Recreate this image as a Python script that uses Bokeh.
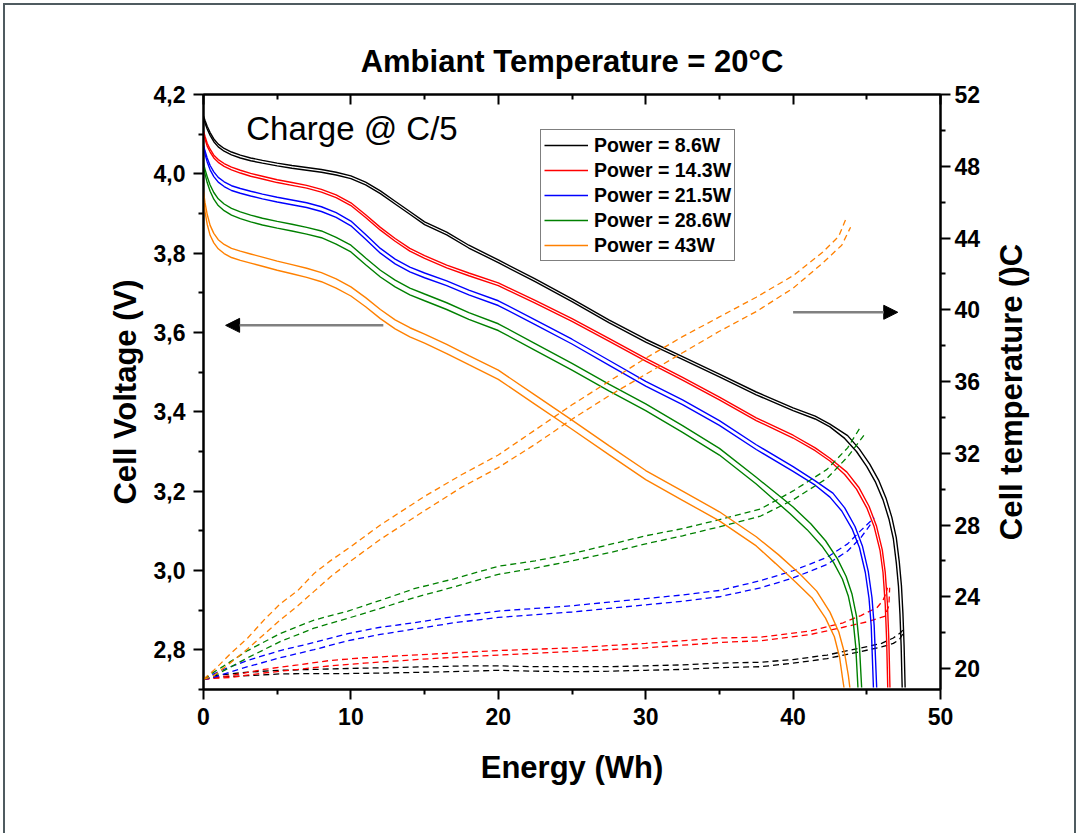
from bokeh.plotting import figure
from bokeh.layouts import row
from bokeh.models import (Range1d, LinearAxis, FixedTicker, Legend, LegendItem,
                          Label, Arrow, NormalHead)
from bokeh.embed import file_html
from bokeh.resources import INLINE

FONT = "Liberation Sans"

# ---- series ---------------------------------------------------------------
POWERS = ["Power = 8.6W", "Power = 14.3W", "Power = 21.5W", "Power = 28.6W", "Power = 43W"]
COLORS = ["#000000", "#ff0000", "#0000ff", "#008000", "#ff8000"]

# cell voltage (V) vs energy (Wh), two cells (A, B) per power level
E_V_86_A = [0, 0.1, 0.25, 0.45, 0.7, 1.0, 1.4, 1.9, 2.5, 3.2, 4.0, 5.0, 6.0, 7.0, 8.0, 9.0, 10.0, 11.0, 12.0, 13.0, 14.0, 15.0, 16.5, 18.0, 20.0, 22.5, 25.0, 27.5, 30.0, 32.5, 35.0, 37.5, 40.0, 41.5, 42.5, 43.5, 44.3, 45.0, 45.6, 46.1, 46.5, 46.8, 47.0, 47.15, 47.25, 47.33, 47.4]
V_86_A = [4.140, 4.128, 4.113, 4.097, 4.081, 4.068, 4.057, 4.048, 4.040, 4.033, 4.027, 4.020, 4.014, 4.009, 4.004, 3.997, 3.988, 3.972, 3.950, 3.924, 3.898, 3.872, 3.846, 3.813, 3.776, 3.728, 3.678, 3.625, 3.576, 3.532, 3.488, 3.443, 3.403, 3.382, 3.362, 3.333, 3.300, 3.262, 3.222, 3.178, 3.130, 3.080, 3.020, 2.960, 2.890, 2.810, 2.705]
E_V_86_B = [0, 0.1, 0.25, 0.45, 0.7, 1.0, 1.4, 1.9, 2.5, 3.2, 4.0, 5.0, 6.0, 7.0, 8.0, 9.0, 10.0, 11.0, 12.0, 13.0, 14.0, 15.0, 16.5, 18.0, 20.0, 22.5, 25.0, 27.5, 30.0, 32.5, 35.0, 37.5, 40.0, 41.5, 42.5, 43.7, 44.5, 45.2, 45.8, 46.3, 46.7, 47.0, 47.2, 47.35, 47.45, 47.53, 47.6]
V_86_B = [4.146, 4.135, 4.120, 4.104, 4.088, 4.075, 4.064, 4.055, 4.047, 4.040, 4.034, 4.027, 4.021, 4.016, 4.011, 4.004, 3.995, 3.979, 3.957, 3.931, 3.905, 3.879, 3.853, 3.820, 3.783, 3.735, 3.685, 3.632, 3.583, 3.539, 3.495, 3.450, 3.410, 3.389, 3.369, 3.340, 3.306, 3.268, 3.228, 3.183, 3.134, 3.083, 3.023, 2.962, 2.892, 2.811, 2.705]

E_V_143_A = [0, 0.1, 0.25, 0.45, 0.7, 1.0, 1.4, 1.9, 2.5, 3.2, 4.0, 5.0, 6.0, 7.0, 8.0, 9.0, 10.0, 11.0, 12.0, 13.0, 14.0, 15.0, 16.5, 18.0, 20.0, 22.5, 25.0, 27.5, 30.0, 32.5, 35.0, 37.5, 40.0, 41.5, 42.5, 43.5, 44.3, 45.0, 45.5, 45.9, 46.1, 46.25, 46.35, 46.42]
V_143_A = [4.103, 4.088, 4.070, 4.055, 4.040, 4.029, 4.019, 4.010, 4.002, 3.994, 3.987, 3.978, 3.971, 3.964, 3.954, 3.940, 3.920, 3.890, 3.858, 3.830, 3.805, 3.787, 3.763, 3.743, 3.718, 3.674, 3.628, 3.578, 3.528, 3.480, 3.430, 3.378, 3.334, 3.302, 3.276, 3.242, 3.205, 3.158, 3.110, 3.050, 2.995, 2.915, 2.820, 2.705]
E_V_143_B = [0, 0.1, 0.25, 0.45, 0.7, 1.0, 1.4, 1.9, 2.5, 3.2, 4.0, 5.0, 6.0, 7.0, 8.0, 9.0, 10.0, 11.0, 12.0, 13.0, 14.0, 15.0, 16.5, 18.0, 20.0, 22.5, 25.0, 27.5, 30.0, 32.5, 35.0, 37.5, 40.0, 41.5, 42.5, 43.65, 44.45, 45.15, 45.65, 46.05, 46.25, 46.4, 46.5, 46.57]
V_143_B = [4.108, 4.095, 4.077, 4.062, 4.047, 4.036, 4.026, 4.017, 4.009, 4.001, 3.994, 3.985, 3.978, 3.971, 3.961, 3.947, 3.927, 3.897, 3.865, 3.837, 3.812, 3.794, 3.770, 3.750, 3.725, 3.681, 3.635, 3.585, 3.535, 3.487, 3.437, 3.385, 3.341, 3.309, 3.283, 3.248, 3.210, 3.162, 3.113, 3.052, 2.996, 2.916, 2.820, 2.705]

E_V_215_A = [0, 0.1, 0.25, 0.45, 0.7, 1.0, 1.4, 1.9, 2.5, 3.2, 4.0, 5.0, 6.0, 7.0, 8.0, 9.0, 10.0, 11.0, 12.0, 13.0, 14.0, 15.0, 16.5, 18.0, 20.0, 22.5, 25.0, 27.5, 30.0, 32.5, 35.0, 37.5, 40.0, 41.5, 42.5, 43.3, 44.0, 44.5, 44.9, 45.15, 45.3, 45.45]
V_215_A = [4.068, 4.050, 4.030, 4.010, 3.993, 3.979, 3.968, 3.958, 3.951, 3.944, 3.937, 3.929, 3.922, 3.915, 3.905, 3.890, 3.869, 3.835, 3.800, 3.773, 3.753, 3.738, 3.718, 3.695, 3.668, 3.620, 3.571, 3.518, 3.465, 3.418, 3.366, 3.305, 3.250, 3.215, 3.185, 3.150, 3.105, 3.058, 2.995, 2.930, 2.860, 2.705]
E_V_215_B = [0, 0.1, 0.25, 0.45, 0.7, 1.0, 1.4, 1.9, 2.5, 3.2, 4.0, 5.0, 6.0, 7.0, 8.0, 9.0, 10.0, 11.0, 12.0, 13.0, 14.0, 15.0, 16.5, 18.0, 20.0, 22.5, 25.0, 27.5, 30.0, 32.5, 35.0, 37.5, 40.0, 41.5, 42.7, 43.5, 44.2, 44.7, 45.1, 45.35, 45.5, 45.67]
V_215_B = [4.072, 4.058, 4.040, 4.021, 4.005, 3.991, 3.980, 3.970, 3.963, 3.956, 3.949, 3.941, 3.934, 3.927, 3.917, 3.902, 3.881, 3.847, 3.812, 3.785, 3.765, 3.750, 3.730, 3.707, 3.680, 3.632, 3.583, 3.530, 3.477, 3.430, 3.378, 3.317, 3.262, 3.226, 3.195, 3.158, 3.111, 3.062, 2.998, 2.932, 2.861, 2.705]

E_V_286_A = [0, 0.1, 0.25, 0.45, 0.7, 1.0, 1.4, 1.9, 2.5, 3.2, 4.0, 5.0, 6.0, 7.0, 8.0, 9.0, 10.0, 11.0, 12.0, 13.0, 14.0, 15.0, 16.5, 18.0, 20.0, 22.5, 25.0, 27.5, 30.0, 32.5, 35.0, 37.5, 40.0, 41.2, 42.2, 43.0, 43.6, 44.0, 44.3, 44.5, 44.65]
V_286_A = [4.027, 4.012, 3.993, 3.972, 3.953, 3.937, 3.924, 3.913, 3.904, 3.896, 3.888, 3.880, 3.873, 3.865, 3.856, 3.840, 3.820, 3.788, 3.757, 3.732, 3.712, 3.697, 3.675, 3.650, 3.622, 3.572, 3.522, 3.470, 3.420, 3.365, 3.308, 3.235, 3.160, 3.118, 3.075, 3.030, 2.985, 2.940, 2.885, 2.810, 2.705]
E_V_286_B = [0, 0.1, 0.25, 0.45, 0.7, 1.0, 1.4, 1.9, 2.5, 3.2, 4.0, 5.0, 6.0, 7.0, 8.0, 9.0, 10.0, 11.0, 12.0, 13.0, 14.0, 15.0, 16.5, 18.0, 20.0, 22.5, 25.0, 27.5, 30.0, 32.5, 35.0, 37.5, 39.8, 40.95, 41.95, 42.75, 43.35, 43.75, 44.05, 44.25, 44.4]
V_286_B = [4.020, 4.000, 3.978, 3.956, 3.936, 3.920, 3.907, 3.896, 3.887, 3.879, 3.871, 3.863, 3.856, 3.848, 3.839, 3.823, 3.803, 3.771, 3.740, 3.715, 3.695, 3.680, 3.658, 3.633, 3.605, 3.555, 3.505, 3.453, 3.403, 3.348, 3.291, 3.218, 3.143, 3.103, 3.062, 3.020, 2.978, 2.935, 2.882, 2.808, 2.705]

E_V_43_A = [0, 0.1, 0.25, 0.45, 0.7, 1.0, 1.4, 1.9, 2.5, 3.2, 4.0, 5.0, 6.0, 7.0, 8.0, 9.0, 10.0, 11.0, 12.0, 13.0, 14.0, 15.0, 16.5, 18.0, 20.0, 22.5, 25.0, 27.5, 30.0, 32.5, 35.0, 37.5, 39.0, 40.5, 41.6, 42.5, 43.1, 43.5, 43.75, 43.85]
V_43_A = [3.955, 3.928, 3.898, 3.870, 3.850, 3.834, 3.822, 3.812, 3.805, 3.798, 3.790, 3.780, 3.771, 3.762, 3.751, 3.735, 3.715, 3.688, 3.658, 3.632, 3.612, 3.596, 3.570, 3.542, 3.505, 3.442, 3.379, 3.315, 3.252, 3.200, 3.148, 3.085, 3.040, 2.990, 2.948, 2.895, 2.845, 2.790, 2.735, 2.705]
E_V_43_B = [0, 0.1, 0.25, 0.45, 0.7, 1.0, 1.4, 1.9, 2.5, 3.2, 4.0, 5.0, 6.0, 7.0, 8.0, 9.0, 10.0, 11.0, 12.0, 13.0, 14.0, 15.0, 16.5, 18.0, 20.0, 22.5, 25.0, 27.5, 30.0, 32.5, 35.0, 37.5, 38.8, 40.2, 41.3, 42.2, 42.8, 43.15, 43.35, 43.45]
V_43_B = [3.940, 3.905, 3.873, 3.845, 3.826, 3.811, 3.799, 3.789, 3.782, 3.775, 3.767, 3.757, 3.748, 3.739, 3.728, 3.712, 3.692, 3.665, 3.635, 3.609, 3.589, 3.573, 3.547, 3.519, 3.482, 3.419, 3.356, 3.292, 3.229, 3.177, 3.125, 3.062, 3.018, 2.970, 2.930, 2.880, 2.833, 2.782, 2.730, 2.705]

# cell temperature (°C) vs energy (Wh), two cells per power level
E_T_86_A = [0, 0.7, 1.8, 3.0, 5.2, 7.5, 9.8, 12.5, 15.4, 18.0, 20.0, 22.5, 25.0, 27.5, 30.0, 32.5, 35.0, 37.8, 40.0, 42.3, 44.6, 46.0, 46.8, 47.2, 47.5]
T_86_A = [19.4, 19.5, 19.55, 19.6, 19.7, 19.72, 19.72, 19.75, 19.8, 19.85, 19.9, 19.85, 19.82, 19.85, 19.9, 19.95, 20.05, 20.1, 20.3, 20.55, 20.95, 21.2, 21.4, 21.6, 22.0]
E_T_86_B = [0, 0.7, 1.8, 3.0, 5.2, 7.5, 9.8, 12.5, 15.4, 18.0, 20.0, 22.5, 25.0, 27.5, 30.0, 32.5, 35.0, 37.8, 40.0, 42.3, 44.6, 46.0, 46.8, 47.3, 47.6]
T_86_B = [19.4, 19.6, 19.7, 19.8, 19.9, 19.95, 20.0, 20.05, 20.1, 20.15, 20.15, 20.1, 20.1, 20.1, 20.15, 20.2, 20.3, 20.35, 20.5, 20.75, 21.15, 21.4, 21.7, 22.0, 22.3]

E_T_143_A = [0, 0.7, 1.8, 4.1, 6.4, 8.6, 10.9, 15.4, 20.0, 25.0, 30.0, 35.0, 37.8, 41.2, 43.4, 44.6, 45.7, 46.1, 46.3, 46.4]
T_143_A = [19.4, 19.5, 19.6, 19.95, 20.2, 20.45, 20.6, 20.8, 21.0, 21.15, 21.4, 21.7, 21.75, 22.1, 22.55, 22.95, 23.4, 23.8, 24.2, 24.5]
E_T_143_B = [0, 0.7, 1.8, 4.1, 6.4, 8.6, 10.9, 15.4, 20.0, 25.0, 30.0, 35.0, 37.8, 41.2, 43.4, 45.0, 46.2, 46.5, 46.55]
T_143_B = [19.4, 19.45, 19.5, 19.75, 19.95, 20.15, 20.3, 20.55, 20.75, 20.95, 21.15, 21.45, 21.55, 21.9, 22.3, 22.6, 22.9, 23.5, 24.5]

E_T_215_A = [0, 0.7, 1.2, 3.0, 5.2, 7.5, 9.8, 12.0, 14.3, 17.0, 20.0, 22.5, 25.0, 27.5, 30.0, 32.5, 35.0, 37.8, 40.0, 42.3, 43.7, 44.6, 45.5]
T_215_A = [19.4, 19.7, 19.9, 20.45, 21.0, 21.45, 21.95, 22.3, 22.55, 22.9, 23.2, 23.35, 23.5, 23.7, 23.9, 24.1, 24.35, 24.9, 25.45, 26.2, 26.95, 27.7, 28.4]
E_T_215_B = [0, 0.7, 1.2, 3.0, 5.2, 7.5, 9.8, 12.0, 14.3, 17.0, 20.0, 22.5, 25.0, 27.5, 30.0, 32.5, 35.0, 37.8, 40.0, 42.3, 43.7, 44.6, 45.4]
T_215_B = [19.4, 19.5, 19.65, 20.1, 20.6, 21.05, 21.55, 21.9, 22.2, 22.55, 22.85, 23.0, 23.15, 23.35, 23.55, 23.75, 24.0, 24.5, 25.05, 25.8, 26.55, 27.3, 28.2]

E_T_286_A = [0, 0.7, 1.2, 3.0, 5.2, 7.5, 9.8, 12.0, 14.3, 17.0, 20.0, 22.5, 25.0, 27.5, 30.0, 32.5, 35.0, 37.8, 40.0, 42.3, 43.7, 44.6]
T_286_A = [19.4, 19.8, 20.05, 21.0, 21.95, 22.7, 23.2, 23.8, 24.45, 25.0, 25.7, 26.0, 26.4, 26.9, 27.4, 27.8, 28.3, 28.9, 29.9, 31.1, 32.3, 33.5]
E_T_286_B = [0, 0.7, 1.2, 3.0, 5.2, 7.5, 9.8, 12.0, 14.3, 17.0, 20.0, 22.5, 25.0, 27.5, 30.0, 32.5, 35.0, 37.8, 40.0, 42.3, 43.7, 44.8]
T_286_B = [19.4, 19.6, 19.8, 20.6, 21.5, 22.25, 22.8, 23.35, 23.95, 24.55, 25.25, 25.6, 26.0, 26.45, 26.95, 27.4, 27.9, 28.5, 29.4, 30.6, 31.8, 33.0]

E_T_43_A = [0, 0.7, 1.8, 3.0, 4.1, 5.2, 6.4, 7.5, 8.6, 10.0, 12.0, 15.0, 17.5, 20.0, 22.5, 25.0, 27.5, 30.0, 32.5, 35.0, 37.5, 40.0, 42.0, 43.1, 43.6]
T_43_A = [19.4, 19.9, 20.8, 21.7, 22.7, 23.6, 24.35, 25.3, 26.0, 26.8, 28.0, 29.6, 30.8, 31.9, 33.3, 34.7, 36.0, 37.3, 38.5, 39.6, 40.7, 41.9, 43.2, 44.1, 45.1]
E_T_43_B = [0, 0.7, 1.8, 3.0, 4.1, 5.2, 6.4, 7.5, 8.6, 10.0, 12.0, 15.0, 17.5, 20.0, 22.5, 25.0, 27.5, 30.0, 32.5, 35.0, 37.5, 40.0, 42.0, 43.3, 43.9]
T_43_B = [19.4, 19.6, 20.3, 21.1, 21.9, 22.7, 23.5, 24.3, 25.1, 26.0, 27.2, 28.8, 30.1, 31.2, 32.5, 33.9, 35.2, 36.4, 37.6, 38.8, 39.9, 41.2, 42.6, 43.6, 44.6]

VOLTAGE = [
    (E_V_86_A, V_86_A, E_V_86_B, V_86_B),
    (E_V_143_A, V_143_A, E_V_143_B, V_143_B),
    (E_V_215_A, V_215_A, E_V_215_B, V_215_B),
    (E_V_286_A, V_286_A, E_V_286_B, V_286_B),
    (E_V_43_A, V_43_A, E_V_43_B, V_43_B),
]
TEMPERATURE = [
    (E_T_86_A, T_86_A, E_T_86_B, T_86_B),
    (E_T_143_A, T_143_A, E_T_143_B, T_143_B),
    (E_T_215_A, T_215_A, E_T_215_B, T_215_B),
    (E_T_286_A, T_286_A, E_T_286_B, T_286_B),
    (E_T_43_A, T_43_A, E_T_43_B, T_43_B),
]

# ---- axes ------------------------------------------------------------------
X_MAJOR = [0, 10, 20, 30, 40, 50]
X_MINOR = [5, 15, 25, 35, 45]
V_MAJOR = [2.8, 3.0, 3.2, 3.4, 3.6, 3.8, 4.0, 4.2]
V_MINOR = [2.7, 2.9, 3.1, 3.3, 3.5, 3.7, 3.9, 4.1]
V_LABELS = ["2,8", "3,0", "3,2", "3,4", "3,6", "3,8", "4,0", "4,2"]
T_MAJOR = [20, 24, 28, 32, 36, 40, 44, 48, 52]
T_MINOR = [22, 26, 30, 34, 38, 42, 46, 50]

W, H = 1079, 833
MAIN_W = 990                     # main chart; the strip to its right holds the temperature title
LEFT, RIGHT, TOP, BOTTOM = 203, 940, 94, 689
X0, X1 = 0, 50
V0, V1 = 2.7, 4.2
T0, T1 = 18.83, 52

p = figure(width=MAIN_W, height=H, x_range=Range1d(X0, X1), y_range=Range1d(V0, V1),
           output_backend="svg", toolbar_location=None,
           min_border_left=LEFT, min_border_right=MAIN_W - RIGHT,
           min_border_top=TOP, min_border_bottom=H - BOTTOM)
p.extra_y_ranges = {"temp": Range1d(T0, T1)}
p.xgrid.visible = False
p.ygrid.visible = False
p.background_fill_color = "white"
p.border_fill_color = None
p.outline_line_color = "black"
p.outline_line_width = 2

p.title.text = "Ambiant Temperature = 20°C"
p.title.align = "center"
p.title.text_font = FONT
p.title.text_font_style = "bold"
p.title.text_font_size = "31px"
p.title.text_color = "black"
p.title.standoff = 31


def style_axis(ax, out=True):
    ax.axis_line_color = "black"
    ax.axis_line_width = 2
    ax.major_tick_line_color = "black"
    ax.minor_tick_line_color = "black"
    ax.major_tick_line_width = 2
    ax.minor_tick_line_width = 2
    if out:
        ax.major_tick_out, ax.major_tick_in = 10, 0
        ax.minor_tick_out, ax.minor_tick_in = 5, 0
    else:
        ax.major_tick_out, ax.major_tick_in = 0, 10
        ax.minor_tick_out, ax.minor_tick_in = 0, 5
    ax.major_label_text_font = FONT
    ax.major_label_text_font_style = "bold"
    ax.major_label_text_font_size = "23px"
    ax.major_label_text_color = "black"
    ax.axis_label_text_font = FONT
    ax.axis_label_text_font_style = "bold"
    ax.axis_label_text_font_size = "31px"
    ax.axis_label_text_color = "black"


xb = p.xaxis[0]
style_axis(xb)
xb.ticker = FixedTicker(ticks=X_MAJOR, minor_ticks=X_MINOR)
xb.major_label_standoff = 8
xb.axis_label = "Energy (Wh)"
xb.axis_label_standoff = 22

yl = p.yaxis[0]
style_axis(yl)
yl.ticker = FixedTicker(ticks=V_MAJOR, minor_ticks=V_MINOR)
yl.major_label_overrides = {v: s for v, s in zip(V_MAJOR, V_LABELS)}
yl.major_label_standoff = 8
yl.axis_label = "Cell Voltage (V)"
yl.axis_label_standoff = 8

xt = LinearAxis(ticker=FixedTicker(ticks=X_MAJOR, minor_ticks=X_MINOR))
style_axis(xt, out=False)
xt.major_label_overrides = {v: "" for v in X_MAJOR}
p.add_layout(xt, "above")

yr = LinearAxis(y_range_name="temp", ticker=FixedTicker(ticks=T_MAJOR, minor_ticks=T_MINOR))
style_axis(yr)
yr.major_label_standoff = 4
p.add_layout(yr, "right")

# ---- curves ----------------------------------------------------------------
items = []
for name, color, (ea, va, eb, vb), (eta, ta, etb, tb) in zip(POWERS, COLORS, VOLTAGE, TEMPERATURE):
    r = p.line(ea, va, line_color=color, line_width=1.4)
    p.line(eb, vb, line_color=color, line_width=1.4)
    p.line(eta, ta, y_range_name="temp", line_color=color, line_width=1.3, line_dash="6 4")
    p.line(etb, tb, y_range_name="temp", line_color=color, line_width=1.3, line_dash="6 4")
    items.append(LegendItem(label=name, renderers=[r]))

legend = Legend(items=items, location=(337, 428), orientation="vertical",
                label_text_font=FONT, label_text_font_style="bold",
                label_text_font_size="19.5px", label_text_color="black",
                glyph_width=44, glyph_height=24, label_height=24,
                label_standoff=6, spacing=1, padding=3, margin=0,
                border_line_color="black", border_line_width=1,
                background_fill_color="white", background_fill_alpha=1)
p.add_layout(legend)

# ---- annotations -----------------------------------------------------------
p.add_layout(Label(x=2.9, y=4.115, text="Charge @ C/5", text_font=FONT,
                   text_font_size="33px", text_color="black",
                   text_baseline="alphabetic", text_align="left"))

p.add_layout(Arrow(end=NormalHead(size=14, fill_color="black", line_color="black"),
                   x_start=12.2, y_start=3.618, x_end=1.5, y_end=3.618,
                   line_color="#808080", line_width=2.5))
p.add_layout(Arrow(end=NormalHead(size=14, fill_color="black", line_color="black"),
                   x_start=40.0, y_start=3.651, x_end=47.1, y_end=3.651,
                   line_color="#808080", line_width=2.5))

# ---- temperature axis title: a bare strip whose left axis carries the text ----
q = figure(width=W - MAIN_W, height=H, x_range=Range1d(0, 1), y_range=Range1d(T0, T1),
           output_backend="svg", toolbar_location=None, x_axis_location=None,
           min_border_left=40, min_border_right=5,
           min_border_top=TOP, min_border_bottom=H - BOTTOM)
q.xgrid.visible = False
q.ygrid.visible = False
q.background_fill_color = None
q.border_fill_color = None
q.outline_line_color = None
yt = q.yaxis[0]
style_axis(yt)
yt.ticker = FixedTicker(ticks=[])
yt.axis_line_color = None
yt.major_tick_out = yt.minor_tick_out = 0
yt.major_tick_in = yt.minor_tick_in = 0
yt.major_label_standoff = 0
yt.axis_label = "Cell temperature ()C"
yt.axis_label_standoff = 2

# page frame: thin slate line along the left, top and right edges
page = row(p, q, styles={
    "background-color": "white",
    "box-shadow": ("inset 3px 3px 0 0 white, inset -3px 0 0 0 white, "
                   "inset 5px 5px 0 0 #4f5b60, inset -5px 0 0 0 #4f5b60"),
})

open("out.html", "w").write(file_html(page, INLINE))
